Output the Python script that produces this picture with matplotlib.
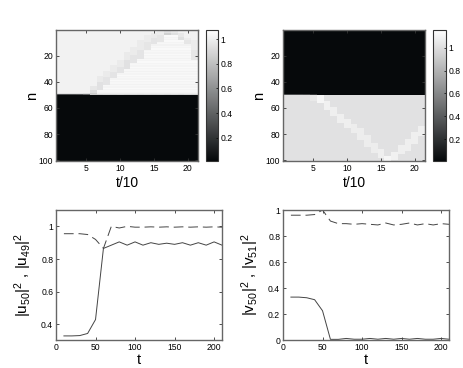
import numpy as np
import matplotlib
matplotlib.use('Agg')
import matplotlib.pyplot as plt
from matplotlib.colors import LinearSegmentedColormap

plt.rcParams['font.family'] = ['Liberation Sans', 'DejaVu Sans']
plt.rcParams['mathtext.fontset'] = 'custom'
plt.rcParams['mathtext.rm'] = 'Liberation Sans'
plt.rcParams['mathtext.default'] = 'regular'

W, H = 463, 368

# line data, one sample every 10 time units
t = [10, 20, 30, 40, 50, 60, 70, 80, 90, 100, 110, 120, 130, 140, 150, 160, 170, 180, 190, 200, 210]
u50 = [0.33, 0.33, 0.332, 0.345, 0.43, 0.865, 0.885, 0.905, 0.885, 0.905, 0.885, 0.9, 0.89, 0.897, 0.89, 0.9, 0.885, 0.9, 0.885, 0.905, 0.885]
u49 = [0.955, 0.955, 0.955, 0.95, 0.92, 0.865, 1.0, 0.99, 1.0, 0.995, 0.995, 0.997, 0.995, 0.997, 0.995, 0.997, 0.995, 0.997, 0.995, 0.997, 0.995]
v50 = [0.33, 0.33, 0.325, 0.31, 0.225, 0.005, 0.005, 0.012, 0.006, 0.006, 0.012, 0.006, 0.012, 0.006, 0.012, 0.006, 0.012, 0.006, 0.006, 0.012, 0.006]
v51 = [0.96, 0.96, 0.96, 0.965, 1.0, 0.915, 0.895, 0.895, 0.89, 0.895, 0.89, 0.885, 0.9, 0.885, 0.89, 0.9, 0.885, 0.895, 0.885, 0.895, 0.89]

# heatmap, left panel: grey front for columns 6..21 (first row, last row, level)
u_front_col = [6, 7, 8, 9, 10, 11, 12, 13, 14, 15, 16, 17, 18, 19, 20, 21]
u_front_start = [44, 36, 32, 28, 24, 18, 14, 9, 5, 3, 1, 1, 1, 3, 7, 9]
u_front_end = [49, 46, 42, 37, 33, 30, 25, 22, 15, 11, 9, 4, 4, 8, 11, 23]
u_front_level = [0.93, 0.95, 0.96, 0.96, 0.96, 0.95, 0.96, 0.96, 0.97, 0.96, 0.97, 0.88, 0.94, 0.94, 0.97, 0.97]
u_band = [1.04, 1.02, 1.04, 1.03, 1.05, 1.03, 1.04, 1.03, 1.05, 1.03]
u_back = 1.02

# heatmap, right panel: bright front for columns 5..21
v_front_col = [5, 6, 7, 8, 9, 10, 11, 12, 13, 14, 15, 16, 17, 18, 19, 20, 21]
v_front_start = [51, 51, 55, 60, 65, 69, 73, 76, 81, 87, 92, 97, 94, 89, 84, 79, 74]
v_front_end = [54, 56, 61, 66, 71, 75, 79, 84, 89, 94, 98, 100, 99, 95, 92, 87, 81]
v_front_level = [1.05, 1.11, 1.09, 1.08, 1.08, 1.08, 1.07, 1.07, 1.07, 1.07, 1.08, 1.11, 1.09, 1.08, 1.08, 1.08, 1.08]
v_back = 1.02

dark = 0.02
n_ticks = [20, 40, 60, 80, 100]
step_ticks = [5, 10, 15, 20]
cbar_ticks = [0.2, 0.4, 0.6, 0.8, 1]
cbar_labels = ['0.2', '0.4', '0.6', '0.8', '1']

cool_gray = LinearSegmentedColormap.from_list('cool_gray', ['#05080a', '#ffffff'])


def box(x0, y0, x1, y1):
	# pixel box, y from the top of the picture
	return [x0 / W, 1 - y1 / H, (x1 - x0) / W, (y1 - y0) / H]


def style(ax):
	ax.tick_params(direction='in', length=2, width=0.6, labelsize=6.2, pad=2, top=True, right=True, color='#333333')
	for s in ax.spines.values():
		s.set_linewidth(1.0)
		s.set_color('#666666')


def make_u():
	m = np.full((100, 21), dark)
	for row in range(49):
		m[row, :] = u_back
	for i, c in enumerate(u_front_col):
		for row in range(u_front_end[i], 49):
			m[row, c - 1] = u_band[row % len(u_band)]
		first = u_front_start[i] - 1
		last = u_front_end[i]
		mid = (first + last) // 2
		# front fades out towards its upper edge
		m[first:mid, c - 1] = (u_front_level[i] + u_back) / 2
		m[mid:last, c - 1] = u_front_level[i]
	m[48, :] = u49
	m[49, :] = u50
	return m


def make_v():
	m = np.full((100, 21), dark)
	m[50:, :] = v_back
	m[49, :] = v50
	for i, c in enumerate(v_front_col):
		m[v_front_start[i] - 1:v_front_end[i], c - 1] = v_front_level[i]
	return m


def heat(m, rect, cbar_rect, vmin, vmax):
	ax = fig.add_axes(box(*rect))
	im = ax.imshow(m, cmap=cool_gray, vmin=vmin, vmax=vmax, aspect='auto', interpolation='nearest',
		extent=[0.5, 21.5, 100.5, 0.5])
	ax.set_xticks(step_ticks)
	ax.set_yticks(n_ticks)
	style(ax)
	ax.set_xlabel('t/10', fontsize=10, labelpad=2.5)
	ax.set_ylabel('n', fontsize=10.5, labelpad=0)
	cax = fig.add_axes(box(*cbar_rect))
	cb = fig.colorbar(im, cax=cax)
	cb.set_ticks(cbar_ticks)
	cb.set_ticklabels(cbar_labels)
	cax.tick_params(direction='in', length=1.5, width=0.5, labelsize=6.2, pad=2)
	cb.outline.set_linewidth(0.8)
	cb.outline.set_edgecolor('#333333')


def curves(solid, dashed, rect, ylim, yticks, ylabels, ylabel):
	ax = fig.add_axes(box(*rect))
	ax.plot(t, solid, color='#444444', lw=0.7)
	ax.plot(t, dashed, color='#444444', lw=0.7, dashes=(10, 5))
	ax.set_xlim(0, 210)
	ax.set_ylim(*ylim)
	ax.set_xticks([0, 50, 100, 150, 200])
	ax.set_yticks(yticks)
	ax.set_yticklabels(ylabels)
	style(ax)
	ax.set_xlabel('t', fontsize=10.5, labelpad=1)
	ax.set_ylabel(ylabel, fontsize=11, labelpad=5)


fig = plt.figure(figsize=(W / 100, H / 100), dpi=100)

heat(make_u(), (56, 30, 198, 161), (206, 30, 218, 161), 0.01, 1.076)
heat(make_v(), (283, 30, 425, 161), (433, 30, 446, 161), 0.011, 1.154)

curves(u50, u49, (56, 210, 222, 340), (0.305, 1.1), [0.4, 0.6, 0.8, 1], ['0.4', '0.6', '0.8', '1'],
	r'$|u_{50}|^2$ , $|u_{49}|^2$')
curves(v50, v51, (283, 210, 449, 340), (0, 1), [0, 0.2, 0.4, 0.6, 0.8, 1], ['0', '0.2', '0.4', '0.6', '0.8', '1'],
	r'$|v_{50}|^2$ , $|v_{51}|^2$')

fig.savefig('out.png', dpi=100)
